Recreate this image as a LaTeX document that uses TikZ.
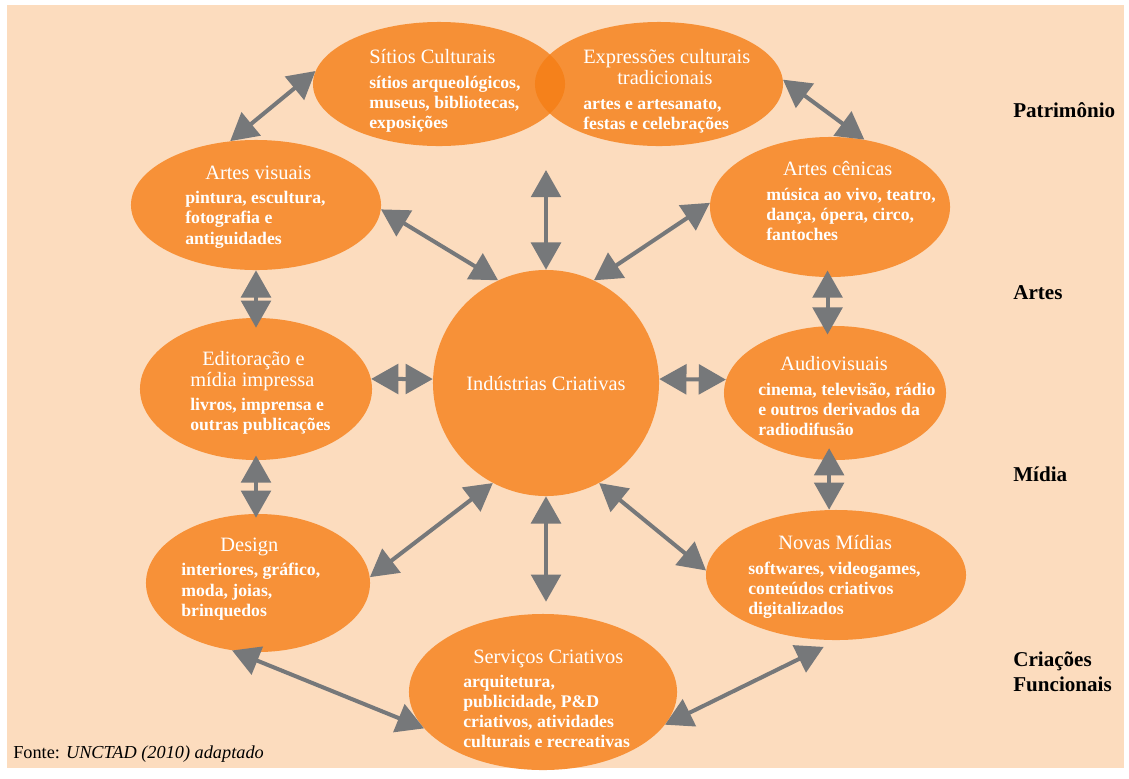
\documentclass[tikz,border=0pt]{standalone}
\usepackage{fontspec}
\setmainfont{Liberation Serif}
\usetikzlibrary{shapes.geometric,arrows.meta}
\definecolor{fundo}{RGB}{252,220,190}
\definecolor{laranja}{RGB}{247,145,56}
\definecolor{laranjaT}{RGB}{245,126,21}
\definecolor{cinza}{RGB}{118,120,122}
\newcommand{\ttl}[1]{{\fontsize{14.5}{16}\selectfont\mdseries #1}}

\begin{document}
\begin{tikzpicture}[x=0.025cm, y=-0.025cm,
    every node/.style={font=\fontsize{12.6}{14.3}\selectfont\bfseries},
    bolha/.style={ellipse, fill=laranja, inner sep=0pt},
    bolhaT/.style={ellipse, fill=laranjaT, fill opacity=0.8, inner sep=0pt},
    texto/.style={text=white, align=left, inner sep=0pt, anchor=west},
    seta/.style={draw=cinza, line width=0.1cm, {Triangle[length=0.68cm,width=0.74cm]}-{Triangle[length=0.68cm,width=0.74cm]}},
    eixo/.style={font=\fontsize{15}{17.5}\selectfont\bfseries, anchor=west, align=left, inner sep=0pt}]

    \useasboundingbox (0,0) rectangle (1129,778);
    \fill[fundo] (7,5) rectangle (1124,768);

    % Patrimônio
    \node[bolhaT, minimum width=6.3cm, minimum height=3.1cm] (sit) at (439,84) {};
    \node[bolhaT, minimum width=6.2cm, minimum height=3.1cm] (exp) at (659,84) {};

    % Artes
    \node[bolha, minimum width=6.25cm, minimum height=3.25cm] (vis) at (256,205) {};
    \node[bolha, minimum width=6cm, minimum height=3.5cm] (cen) at (830,207) {};

    % Círculo central
    \node[circle, fill=laranja, minimum size=5.65cm, text=white] (ic) at (546,383) {\ttl{Indústrias Criativas}};

    % Mídia
    \node[bolha, minimum width=5.8cm, minimum height=3.55cm] (edi) at (256,389) {};
    \node[bolha, minimum width=5.55cm, minimum height=3.35cm] (aud) at (835,393) {};

    % Criações funcionais
    \node[bolha, minimum width=5.6cm, minimum height=3.45cm] (des) at (258,583) {};
    \node[bolha, minimum width=6.5cm, minimum height=3.25cm] (nov) at (836,575) {};
    \node[bolha, minimum width=6.7cm, minimum height=3.9cm] (srv) at (543,692) {};

    % Setas
    \coordinate (topo) at (546,170);
    \draw[seta] (sit.174) -- (vis.112);
    \draw[seta] (exp.2) -- (cen.63);
    \draw[seta] (vis.-2) -- (ic.115);
    \draw[seta] (topo) -- (ic.north);
    \draw[seta] (cen.178) -- (ic.65);
    \draw[seta, shorten >=-0.25cm] (vis.south) -- (edi.north);
    \draw[seta, shorten <=-0.17cm, shorten >=-0.22cm] (cen.-92) -- (cen.-92 |- aud.north);
    \draw[seta] (edi.5) -- (ic.178);
    \draw[seta] (ic.2) -- (aud.173);
    \draw[seta, shorten <=-0.12cm, shorten >=-0.1cm] (edi.south) -- (edi.south |- des.north);
    \draw[seta, shorten <=-0.3cm] (aud.-95) -- (aud.-95 |- nov.north);
    \draw[seta] (ic.-118) -- (des.3);
    \draw[seta, shorten >=0.3cm] (ic.south) -- (ic.south |- srv.north);
    \draw[seta] (ic.-62) -- (nov.178);
    \draw[seta] (des.-111) -- (srv.-163);
    \draw[seta, shorten >=0.375cm] (srv.-15) -- (nov.-89);

    % Textos das bolhas
    \node[texto] (sittxt) at (369,91) {\ttl{Sítios Culturais}\\[3pt]sítios arqueológicos,\\museus, bibliotecas,\\exposições};
    \node[texto] (exptxt) at (583,91) {\ttl{Expressões culturais}\\[1pt]\hspace*{0.85cm}\ttl{tradicionais}\\[3pt]artes e artesanato,\\festas e celebrações};
    \node[texto] (vistxt) at (185,207) {\hspace*{0.5cm}\ttl{Artes visuais}\\[3pt]pintura, escultura,\\fotografia e\\antiguidades};
    \node[texto] (centxt) at (766,201) {\hspace*{0.42cm}\ttl{Artes cênicas}\\[3pt]música ao vivo, teatro,\\dança, ópera, circo,\\fantoches};
    \node[texto] (editxt) at (190,393) {\hspace*{0.3cm}\ttl{Editoração e}\\\ttl{mídia impressa}\\[3pt]livros, imprensa e\\outras publicações};
    \node[texto] (audtxt) at (758,396) {\hspace*{0.55cm}\ttl{Audiovisuais}\\[3pt]cinema, televisão, rádio\\e outros derivados da\\radiodifusão};
    \node[texto] (destxt) at (181,579) {\hspace*{0.98cm}\ttl{Design}\\[3pt]interiores, gráfico,\\moda, joias,\\brinquedos};
    \node[texto] (novtxt) at (748,577) {\hspace*{0.75cm}\ttl{Novas Mídias}\\[3pt]softwares, videogames,\\conteúdos criativos\\digitalizados};
    \node[texto] (srvtxt) at (463,699) {\hspace*{0.25cm}\ttl{Serviços Criativos}\\[3pt]arquitetura,\\publicidade, P\&D\\criativos, atividades\\culturais e recreativas};

    % Eixos
    \node[eixo] (pat) at (1013,110) {Patrimônio};
    \node[eixo] (art) at (1013,293) {Artes};
    \node[eixo] (mid) at (1013,474) {Mídia};
    \node[eixo] (cri) at (1013,672) {Criações\\Funcionais};

    % Fonte
    \node[anchor=west, inner sep=0pt, font=\fontsize{13}{15}\selectfont] (fonte) at (13,754) {Fonte: \textit{UNCTAD (2010) adaptado}};
\end{tikzpicture}
\end{document}
